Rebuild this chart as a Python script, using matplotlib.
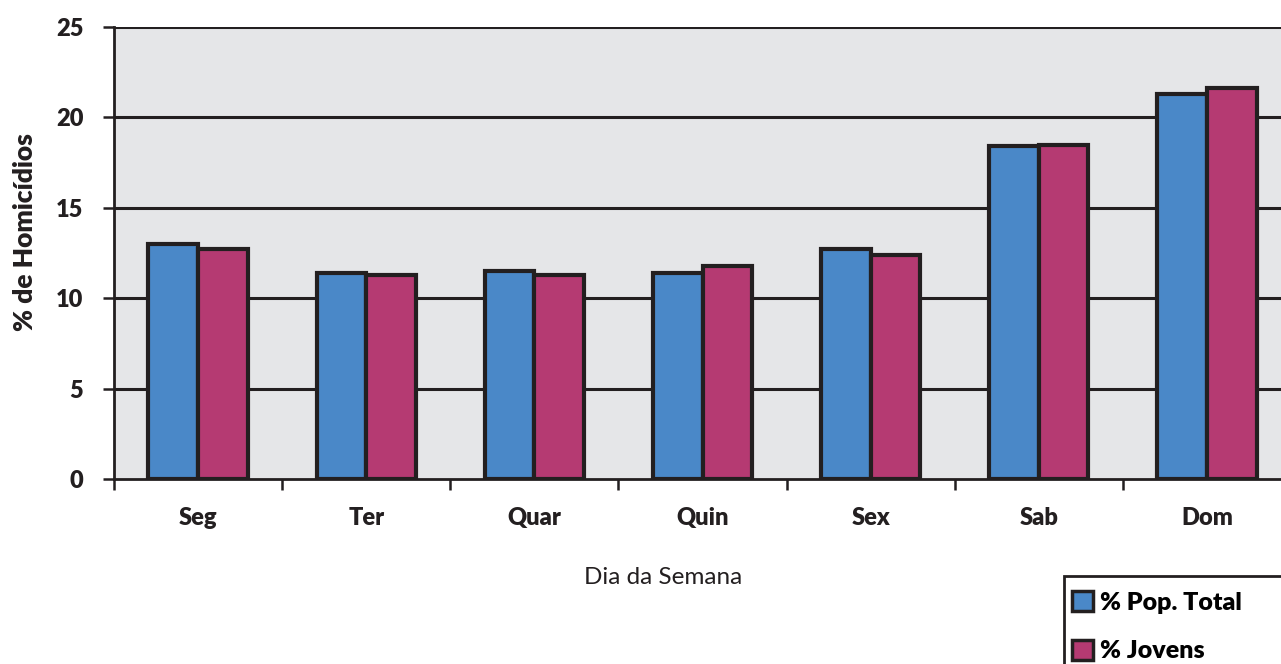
import numpy as np
import matplotlib
matplotlib.use("Agg")
import matplotlib.pyplot as plt
from matplotlib.patches import Rectangle

# Dados
dias = ["Seg", "Ter", "Quar", "Quin", "Sex", "Sab", "Dom"]
pop_total = [13.0, 11.4, 11.5, 11.4, 12.7, 18.4, 21.3]
jovens = [12.7, 11.3, 11.3, 11.8, 12.4, 18.5, 21.6]
y_ticks = [0, 5, 10, 15, 20, 25]

blue = "#4A88C8"
pink = "#B53A72"
edge = "#231F20"

plt.rcParams["font.family"] = ["Lato", "DejaVu Sans"]

fig = plt.figure(figsize=(12.81, 6.64), dpi=100)
ax = fig.add_axes([114 / 1281, (664 - 479) / 664, 1177 / 1281, 452 / 664])
ax.set_facecolor("#E5E6E8")

x = np.arange(len(dias))
w = 0.295
ax.bar(x - w / 2, pop_total, w, color=blue, edgecolor=edge, linewidth=3.0,
       label="% Pop. Total", zorder=3)
ax.bar(x + w / 2, jovens, w, color=pink, edgecolor=edge, linewidth=3.0,
       label="% Jovens", zorder=3)

ax.set_xlim(-0.5, len(dias) - 0.5)
ax.set_ylim(0, 25)
ax.set_yticks(y_ticks)
ax.set_yticklabels([str(t) for t in y_ticks], fontsize=17, fontweight="heavy",
                   color=edge)
for t in y_ticks[1:]:
    ax.axhline(t, color=edge, linewidth=2.2, zorder=1)

# x ticks at category boundaries, labels centered
ax.set_xticks(np.arange(len(dias) + 1) - 0.5)
ax.set_xticklabels([])
ax.set_xticks(x, minor=True)
ax.set_xticklabels(dias, minor=True, fontsize=17, fontweight="heavy", color=edge)
ax.tick_params(axis="x", which="minor", length=0, pad=20)
ax.tick_params(axis="x", which="major", length=8, width=1.8, color=edge)
ax.tick_params(axis="y", length=8, width=1.8, color=edge, pad=14)

for side in ["top", "right"]:
    ax.spines[side].set_visible(False)
for side in ["left", "bottom"]:
    ax.spines[side].set_color(edge)
    ax.spines[side].set_linewidth(2.0)

fig.text(25 / 1281, 1 - 232 / 664, "% de Homicídios", rotation=90, fontsize=19,
         fontweight="heavy", ha="center", va="center", color=edge)
fig.text(663 / 1281, 1 - 578 / 664, "Dia da Semana", fontsize=17.5,
         ha="center", va="center", color=edge)

# legend box runs off the figure edge like the original
fig.patches.append(Rectangle((1064 / 1281, -0.05), 0.2, 1 - 576 / 664 + 0.05,
                             transform=fig.transFigure, facecolor="white",
                             edgecolor=edge, linewidth=2.0))
leg = fig.legend(loc="upper left", bbox_to_anchor=(1072 / 1281, 1 - 591 / 664),
                 bbox_transform=fig.transFigure, borderaxespad=0, frameon=False,
                 prop={"size": 18, "weight": "heavy"},
                 handlelength=0.85, handleheight=0.85, handletextpad=0.25,
                 labelspacing=1.05, borderpad=0)
for h in leg.legend_handles:
    h.set_linewidth(2.5)

fig.savefig("out.png", dpi=100)
